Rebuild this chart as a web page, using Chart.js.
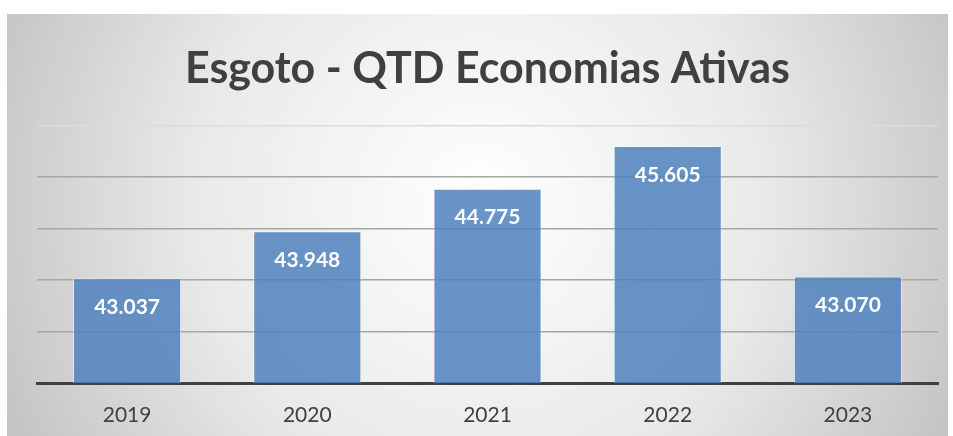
<!DOCTYPE html>
<html>
<head>
<meta charset="utf-8">
<script src="https://cdn.jsdelivr.net/npm/chart.js@4"></script>
<style>
  html, body { margin: 0; padding: 0; background: #fff; }
  #wrap { width: 953px; height: 436px; }
</style>
</head>
<body>
<div id="wrap"><canvas id="bar1"></canvas></div>
<script>
// anos e quantidade de economias ativas de esgoto
const anos = ['2019', '2020', '2021', '2022', '2023'];
const economias = [43037, 43948, 44775, 45605, 43070];
const tituloGrafico = 'Esgoto - QTD Economias Ativas';

// 43037 -> "43.037"
const fmt = (v) => String(v).replace(/\B(?=(\d{3})+(?!\d))/g, '.');

// fundo cinza com degradê radial
const fundo = {
    id: 'fundo',
    beforeDraw(chart) {
        const ctx = chart.ctx;
        ctx.save();
        ctx.fillStyle = '#ffffff';
        ctx.fillRect(0, 0, chart.width, chart.height);
        const g = ctx.createRadialGradient(480, 200, 0, 480, 200, 520);
        g.addColorStop(0, '#ffffff');
        g.addColorStop(0.55, '#e9e9e9');
        g.addColorStop(1, '#c4c4c4');
        ctx.fillStyle = g;
        ctx.fillRect(7, 14, 941, 422);
        ctx.restore();
    }
};

// rótulos dentro das barras
const rotulos = {
    id: 'rotulos',
    afterDatasetsDraw(chart) {
        const ctx = chart.ctx;
        const meta = chart.getDatasetMeta(0);
        ctx.save();
        ctx.font = 'bold 21px Lato';
        ctx.fillStyle = '#ffffff';
        ctx.textAlign = 'center';
        ctx.textBaseline = 'middle';
        meta.data.forEach((bar, i) => {
            ctx.fillText(fmt(economias[i]), bar.x, bar.y + 29);
        });
        ctx.restore();
    }
};

const bar1 = document.getElementById("bar1").getContext("2d");
const myChart1 = new Chart(bar1, {
    type: "bar",
    data: {
        labels: anos,
        datasets: [
            {
                label: 'Economias',
                data: economias,
                backgroundColor: 'rgba(79, 129, 189, 0.85)',
                borderColor: 'rgba(255, 255, 255, 0.45)',
                borderWidth: 1,
                barPercentage: 0.6,
                categoryPercentage: 1,
            },
        ],
    },
    options: {
        responsive: true,
        maintainAspectRatio: false,
        animation: false,
        layout: {
            padding: { left: 37, right: 15, top: 0, bottom: 0 },
        },
        plugins: {
            legend: { display: false },
            tooltip: { enabled: false },
            title: {
                display: true,
                text: tituloGrafico,
                color: '#404040',
                font: { family: 'Lato', size: 43, weight: 'bold', lineHeight: 1.2 },
                padding: { top: 43, bottom: 31 },
            },
        },
        scales: {
            x: {
                grid: { display: false },
                border: { display: true, color: '#404040', width: 3 },
                ticks: {
                    color: '#404040',
                    font: { family: 'Lato', size: 21 },
                    padding: 12,
                },
                afterFit: (s) => { s.height = 53; },
            },
            y: {
                min: 41000,
                max: 46000,
                ticks: { display: false, stepSize: 1000 },
                border: { display: false },
                grid: {
                    color: (c) => c.tick.value === 46000 ? '#dcdcdc' : '#a6a6a6',
                    lineWidth: 1.5,
                    drawTicks: false,
                },
                afterFit: (s) => { s.width = 0; },
            },
        },
    },
    plugins: [fundo, rotulos],
});
</script>
</body>
</html>
